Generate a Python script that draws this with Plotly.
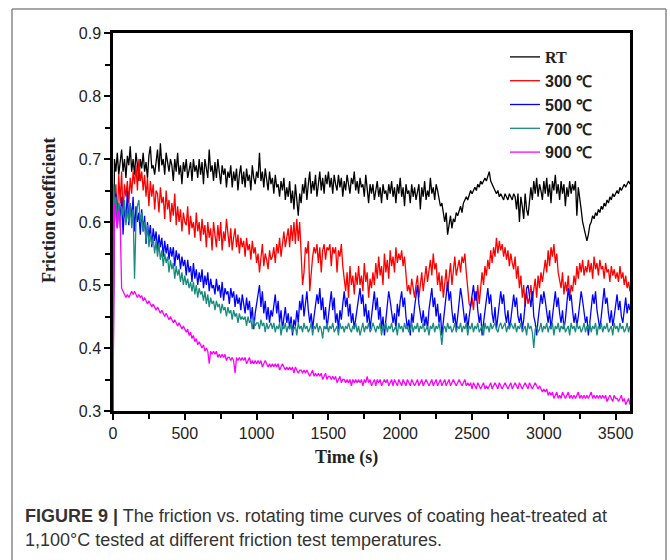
import plotly.graph_objects as go

# Time axis (s)
TIME = [0, 5] + list(range(10, 3601, 10))

RT = [.30, .69,
      .70, .68, .71, .675, .695, .715, .68, .70, .67, .705,
      .69, .72, .68, .70, .675, .71, .69, .665, .70, .685,
      .71, .68, .695, .67, .705, .72, .685, .69, .675, .70,
      .715, .68, .725, .69, .70, .675, .71, .695, .68, .70,
      .69, .665, .70, .68, .71, .675, .69, .66, .695, .68,
      .70, .67, .685, .695, .665, .70, .68, .69, .67, .70,
      .675, .695, .66, .70, .685, .67, .715, .68, .69, .665,
      .695, .67, .70, .68, .66, .69, .675, .685, .655, .68,
      .67, .69, .655, .68, .665, .685, .65, .675, .69, .66,
      .68, .655, .685, .665, .675, .65, .69, .67, .66, .68,
      .67, .71, .665, .68, .655, .685, .67, .65, .68, .66,
      .67, .645, .675, .655, .66, .64, .665, .65, .67, .635,
      .655, .64, .665, .63, .65, .62, .66, .64, .61, .645,
      .63, .66, .645, .67, .635, .66, .68, .645, .665, .65,
      .675, .64, .665, .68, .65, .67, .645, .675, .66, .68,
      .655, .67, .645, .675, .66, .65, .675, .655, .67, .64,
      .665, .65, .675, .655, .645, .67, .66, .68, .65, .665,
      .645, .67, .655, .66, .64, .675, .65, .63, .66, .645,
      .66, .635, .65, .665, .64, .655, .63, .66, .645, .65,
      .635, .66, .645, .665, .64, .655, .63, .66, .645, .67,
      .64, .655, .625, .66, .645, .65, .63, .66, .64, .655,
      .635, .65, .66, .62, .655, .64, .665, .635, .65, .64,
      .67, .645, .655, .635, .66, .65, .64, .625, .63, .61,
      .60, .615, .58, .595, .61, .59, .605, .60, .615, .61,
      .62, .625, .615, .63, .635, .64, .635, .645, .65, .645,
      .65, .655, .65, .66, .655, .665, .66, .665, .67, .665,
      .675, .68, .665, .66, .655, .65, .645, .65, .64, .645,
      .64, .635, .645, .64, .635, .645, .64, .635, .645, .64,
      .62, .645, .60, .64, .625, .605, .645, .62, .61, .64,
      .655, .635, .665, .645, .67, .64, .66, .65, .635, .665,
      .645, .67, .64, .66, .63, .665, .65, .675, .645, .66,
      .635, .665, .645, .66, .625, .655, .64, .665, .645, .66,
      .65, .665, .61, .655, .64, .62, .60, .59, .575, .57,
      .58, .595, .60, .61, .605, .615, .61, .62, .615, .625,
      .62, .63, .625, .635, .63, .64, .635, .645, .64, .645,
      .65, .645, .655, .65, .655, .66, .655, .66, .665, .66]

T300 = [.30, .64,
        .62, .66, .60, .675, .63, .68, .61, .66, .64, .665,
        .63, .67, .645, .68, .66, .69, .65, .70, .665, .68,
        .65, .675, .64, .67, .625, .665, .64, .66, .62, .65,
        .645, .615, .655, .63, .64, .605, .65, .62, .635, .60,
        .63, .61, .645, .595, .625, .60, .62, .585, .615, .60,
        .595, .625, .58, .61, .59, .60, .575, .615, .585, .60,
        .57, .605, .58, .595, .56, .60, .575, .59, .555, .60,
        .58, .56, .595, .57, .60, .555, .585, .57, .605, .575,
        .56, .59, .555, .575, .59, .56, .58, .55, .575, .56,
        .57, .545, .575, .555, .565, .54, .57, .55, .56, .535,
        .55, .52, .545, .565, .53, .55, .54, .525, .555, .54,
        .545, .56, .535, .565, .55, .575, .545, .57, .585, .56,
        .575, .59, .56, .595, .57, .60, .565, .605, .57, .60,
        .55, .50, .52, .56, .55, .57, .49, .52, .545, .56,
        .55, .565, .535, .56, .52, .555, .565, .54, .56, .555,
        .565, .53, .56, .55, .56, .52, .555, .545, .565, .53,
        .51, .49, .52, .48, .53, .50, .515, .485, .52, .50,
        .53, .50, .515, .49, .535, .505, .52, .48, .51, .495,
        .52, .50, .535, .51, .545, .515, .53, .50, .55, .52,
        .54, .51, .555, .53, .545, .52, .56, .535, .55, .54,
        .555, .53, .545, .51, .49, .50, .485, .51, .495, .48,
        .50, .515, .48, .505, .52, .49, .515, .53, .505, .52,
        .54, .515, .55, .525, .535, .50, .52, .49, .515, .48,
        .50, .525, .49, .515, .535, .50, .525, .545, .515, .53,
        .54, .52, .545, .535, .55, .52, .49, .47, .465, .48,
        .46, .49, .475, .50, .47, .495, .52, .50, .53, .515,
        .54, .525, .555, .535, .56, .545, .575, .55, .57, .555,
        .565, .545, .56, .54, .555, .53, .55, .535, .525, .545,
        .51, .53, .495, .515, .48, .50, .465, .49, .47, .48,
        .50, .475, .49, .51, .48, .515, .495, .52, .505, .525,
        .54, .52, .555, .53, .56, .545, .565, .535, .55, .52,
        .51, .495, .52, .485, .505, .49, .515, .48, .50, .49,
        .515, .50, .53, .51, .535, .52, .54, .515, .53, .52,
        .54, .52, .535, .51, .545, .525, .535, .515, .54, .525,
        .53, .51, .535, .52, .525, .505, .53, .515, .525, .51,
        .52, .505, .53, .51, .52, .50, .515, .495, .505, .49]

T500 = [.30, .65,
        .60, .645, .59, .63, .605, .64, .58, .625, .60, .65,
        .595, .63, .605, .64, .585, .625, .60, .615, .58, .62,
        .585, .61, .565, .60, .575, .595, .56, .59, .57, .585,
        .555, .58, .56, .575, .545, .57, .55, .565, .54, .56,
        .545, .56, .53, .555, .54, .55, .525, .545, .53, .54,
        .515, .54, .52, .53, .505, .535, .51, .525, .50, .52,
        .505, .525, .495, .515, .50, .52, .49, .51, .495, .50,
        .485, .51, .49, .50, .48, .505, .475, .495, .485, .49,
        .47, .495, .48, .49, .465, .485, .47, .48, .46, .485,
        .47, .455, .48, .46, .475, .445, .465, .43, .455, .47,
        .48, .50, .465, .49, .455, .475, .445, .465, .44, .46,
        .45, .47, .485, .455, .475, .44, .46, .43, .45, .465,
        .44, .455, .43, .45, .42, .445, .435, .46, .44, .475,
        .46, .485, .45, .475, .49, .46, .44, .455, .43, .45,
        .465, .485, .47, .495, .46, .48, .445, .465, .43, .455,
        .47, .49, .46, .48, .44, .455, .43, .46, .445, .47,
        .49, .465, .48, .45, .47, .44, .455, .43, .445, .465,
        .48, .495, .47, .485, .45, .47, .44, .46, .43, .455,
        .47, .49, .46, .48, .445, .465, .43, .45, .42, .445,
        .465, .49, .475, .46, .44, .455, .43, .47, .45, .475,
        .49, .465, .48, .45, .43, .445, .42, .455, .44, .465,
        .48, .50, .47, .455, .44, .46, .435, .45, .43, .46,
        .475, .495, .465, .48, .45, .47, .44, .455, .42, .44,
        .465, .49, .505, .475, .49, .46, .44, .455, .43, .45,
        .47, .495, .48, .46, .44, .455, .43, .45, .465, .485,
        .50, .475, .49, .46, .44, .455, .42, .44, .46, .48,
        .495, .47, .485, .455, .44, .465, .43, .45, .475, .49,
        .47, .485, .455, .44, .46, .43, .445, .47, .485, .465,
        .48, .45, .44, .455, .43, .445, .475, .495, .50, .48,
        .465, .49, .45, .44, .42, .445, .465, .485, .47, .49,
        .475, .455, .44, .46, .43, .45, .47, .49, .465, .48,
        .455, .44, .46, .43, .445, .47, .495, .475, .485, .46,
        .44, .455, .435, .45, .47, .49, .475, .46, .44, .45,
        .42, .44, .465, .485, .47, .49, .46, .445, .43, .45,
        .475, .495, .47, .48, .455, .44, .46, .435, .45, .47,
        .485, .46, .475, .45, .44, .46, .48, .455, .47, .46]

T700 = [.30, .66,
        .62, .64, .60, .63, .59, .625, .61, .635, .595, .62,
        .60, .63, .59, .62, .51, .60, .625, .635, .60, .615,
        .585, .60, .57, .595, .56, .58, .565, .575, .55, .57,
        .545, .565, .54, .555, .53, .55, .535, .545, .52, .54,
        .525, .535, .51, .53, .515, .525, .505, .52, .50, .515,
        .50, .51, .495, .505, .49, .505, .485, .50, .48, .495,
        .485, .49, .475, .49, .47, .485, .465, .48, .47, .475,
        .46, .475, .465, .47, .455, .47, .46, .465, .45, .465,
        .455, .46, .445, .46, .45, .455, .44, .455, .445, .45,
        .445, .45, .435, .45, .44, .445, .43, .445, .435, .44,
        .44, .43, .445, .435, .44, .425, .44, .43, .435, .44,
        .43, .44, .425, .435, .43, .44, .42, .435, .43, .44,
        .425, .435, .43, .44, .425, .43, .435, .42, .44, .43,
        .435, .425, .44, .43, .435, .425, .43, .44, .42, .435,
        .43, .44, .425, .435, .43, .415, .435, .43, .44, .425,
        .435, .43, .44, .425, .43, .435, .42, .44, .43, .435,
        .425, .435, .43, .44, .43, .425, .435, .43, .44, .425,
        .435, .42, .43, .44, .425, .435, .43, .44, .425, .43,
        .44, .43, .425, .435, .43, .44, .42, .435, .43, .44,
        .425, .435, .43, .44, .425, .43, .435, .42, .44, .43,
        .435, .425, .44, .43, .435, .425, .43, .44, .425, .435,
        .43, .44, .425, .435, .43, .44, .425, .43, .435, .42,
        .435, .43, .44, .425, .435, .43, .44, .425, .405, .43,
        .435, .425, .44, .43, .435, .425, .43, .44, .425, .435,
        .43, .44, .425, .435, .43, .44, .42, .435, .43, .44,
        .425, .435, .43, .44, .425, .43, .435, .42, .44, .43,
        .435, .425, .44, .43, .435, .44, .43, .425, .435, .44,
        .43, .435, .44, .425, .435, .43, .44, .435, .43, .44,
        .425, .435, .43, .44, .425, .43, .435, .42, .44, .43,
        .435, .425, .40, .43, .435, .425, .43, .44, .425, .435,
        .43, .44, .425, .435, .43, .44, .42, .435, .43, .44,
        .425, .435, .43, .44, .425, .43, .435, .42, .44, .43,
        .435, .425, .44, .43, .435, .425, .43, .44, .425, .435,
        .43, .44, .425, .435, .43, .44, .42, .435, .43, .44,
        .425, .435, .43, .44, .425, .43, .435, .42, .44, .43,
        .435, .425, .44, .43, .435, .425, .43, .44, .425, .435]

T900 = [.30, .60,
        .63, .61, .59, .62, .60, .495, .49, .485, .48, .485,
        .48, .485, .49, .485, .49, .485, .48, .485, .48, .483,
        .475, .48, .475, .47, .475, .47, .465, .47, .465, .46,
        .465, .46, .455, .46, .455, .45, .455, .45, .445, .45,
        .445, .44, .445, .44, .435, .44, .435, .43, .435, .43,
        .425, .43, .42, .425, .415, .42, .41, .415, .405, .41,
        .405, .40, .405, .395, .40, .395, .375, .395, .39, .395,
        .39, .395, .385, .39, .385, .39, .385, .39, .38, .385,
        .385, .38, .385, .38, .36, .385, .38, .385, .38, .385,
        .38, .385, .375, .38, .385, .375, .38, .375, .38, .375,
        .38, .375, .38, .37, .375, .38, .375, .37, .375, .37,
        .375, .37, .375, .37, .375, .365, .37, .375, .37, .365,
        .37, .365, .37, .365, .37, .36, .37, .365, .36, .365,
        .365, .36, .365, .36, .365, .36, .355, .36, .365, .355,
        .36, .355, .36, .355, .36, .35, .355, .36, .35, .355,
        .355, .35, .355, .35, .355, .345, .35, .355, .345, .35,
        .35, .345, .35, .345, .35, .34, .35, .345, .35, .345,
        .35, .345, .35, .34, .35, .345, .355, .345, .35, .34,
        .345, .35, .34, .35, .345, .35, .34, .345, .35, .345,
        .35, .34, .345, .35, .34, .35, .345, .34, .35, .345,
        .34, .35, .345, .34, .35, .345, .34, .35, .345, .34,
        .345, .35, .34, .345, .35, .34, .345, .35, .345, .34,
        .345, .35, .34, .345, .35, .34, .345, .35, .34, .345,
        .35, .34, .345, .35, .34, .345, .35, .345, .34, .345,
        .35, .345, .34, .345, .35, .34, .345, .34, .345, .335,
        .345, .34, .335, .345, .34, .335, .34, .345, .335, .34,
        .335, .34, .345, .335, .34, .345, .34, .335, .345, .34,
        .335, .34, .345, .34, .335, .34, .345, .335, .34, .345,
        .34, .335, .345, .34, .335, .34, .345, .34, .335, .345,
        .34, .335, .34, .345, .34, .335, .34, .335, .33, .335,
        .33, .335, .325, .33, .325, .33, .32, .325, .33, .32,
        .325, .32, .33, .325, .32, .325, .33, .32, .325, .32,
        .325, .32, .325, .33, .32, .325, .32, .325, .32, .325,
        .32, .325, .33, .32, .325, .32, .325, .32, .325, .32,
        .325, .32, .325, .315, .32, .325, .32, .315, .325, .32,
        .32, .315, .32, .325, .315, .32, .31, .315, .32, .31]

SERIES = [
    ("<span style='font-family:Liberation Serif'>RT</span>", RT, "#000000"),
    ("300 ℃", T300, "#ff0000"),
    ("500 ℃", T500, "#0000ff"),
    ("700 ℃", T700, "#1a8c7e"),
    ("900 ℃", T900, "#ff00ff"),
]

X_TICKS = [0, 500, 1000, 1500, 2000, 2500, 3000, 3500]
Y_TICKS = [0.3, 0.4, 0.5, 0.6, 0.7, 0.8, 0.9]

fig = go.Figure()
for name, vals, col in SERIES:
    fig.add_trace(go.Scatter(x=TIME, y=vals, mode="lines", name=name,
                             line=dict(color=col, width=1.3)))

axis_common = dict(showline=True, linecolor="black", linewidth=2.5, mirror=True,
                   ticks="outside", ticklen=6, tickwidth=2, tickcolor="black",
                   showgrid=False, zeroline=False,
                   tickfont=dict(family="Liberation Sans", size=16, color="#222"))

fig.update_xaxes(range=[0, 3600], tickvals=X_TICKS,
                 minor=dict(dtick=250, ticklen=5, tickwidth=2, tickcolor="black", ticks="outside"),
                 **axis_common)
fig.update_yaxes(range=[0.3, 0.9], tickvals=Y_TICKS, tickformat=".1f",
                 minor=dict(dtick=0.05, ticklen=5, tickwidth=2, tickcolor="black", ticks="outside"),
                 **axis_common)

def px(xp):
    return (xp - 113) / 517.0

def py(yp):
    return (411 - yp) / 378.0

fig.update_layout(
    width=670, height=560,
    margin=dict(l=113, r=40, t=33, b=149),
    paper_bgcolor="white", plot_bgcolor="white",
    legend=dict(x=px(505), y=py(40), xanchor="left", yanchor="top",
                bgcolor="rgba(0,0,0,0)",
                font=dict(family="Liberation Sans", size=16, color="#222", weight="bold"),
                tracegroupgap=0),
    font=dict(family="Liberation Sans"),
    showlegend=True,
)

# frame around figure
frame_col = "#8a8a8a"
fig.add_shape(type="line", xref="paper", yref="paper", x0=px(12), x1=px(12), y0=py(9), y1=py(570),
              line=dict(color=frame_col, width=1.5))
fig.add_shape(type="line", xref="paper", yref="paper", x0=px(666), x1=px(666), y0=py(9), y1=py(570),
              line=dict(color=frame_col, width=1.5))
fig.add_shape(type="line", xref="paper", yref="paper", x0=px(12), x1=px(666), y0=py(9), y1=py(9),
              line=dict(color=frame_col, width=1.5))

# axis titles
fig.add_annotation(text="<b>Friction coefficient</b>", xref="paper", yref="paper",
                   x=px(49), y=py(211), textangle=-90, showarrow=False,
                   font=dict(family="Liberation Serif", size=18, color="#222"),
                   xanchor="center", yanchor="middle")
fig.add_annotation(text="<b>Time (s)</b>", xref="paper", yref="paper",
                   x=px(346), y=py(457), showarrow=False,
                   font=dict(family="Liberation Serif", size=18, color="#222"),
                   xanchor="center", yanchor="middle")

# caption
fig.add_annotation(text="<b>FIGURE 9 |</b> The friction vs. rotating time curves of coating heat-treated at",
                   xref="paper", yref="paper", x=px(23), y=py(516), showarrow=False,
                   font=dict(family="Liberation Sans", size=18, color="#333"),
                   xanchor="left", yanchor="middle", align="left")
fig.add_annotation(text="1,100°C tested at different friction test temperatures.",
                   xref="paper", yref="paper", x=px(23), y=py(540), showarrow=False,
                   font=dict(family="Liberation Sans", size=18, color="#333"),
                   xanchor="left", yanchor="middle", align="left")

fig.write_html("out.html", config={"displayModeBar": False},
               post_script="document.body.style.margin='0px';")
